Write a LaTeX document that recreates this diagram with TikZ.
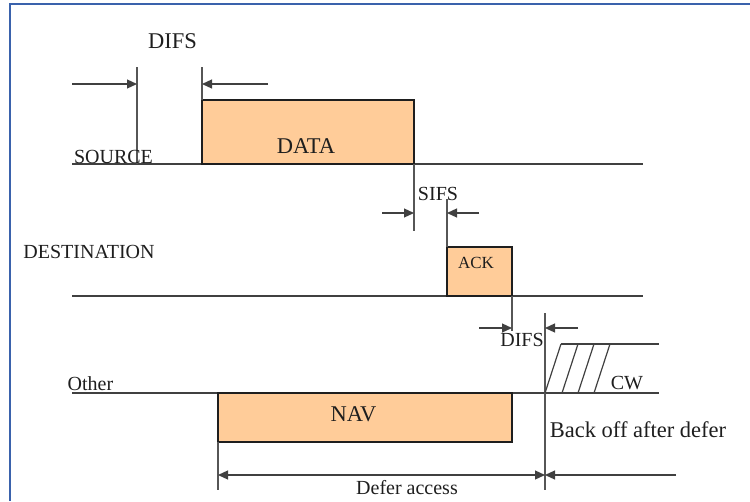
\documentclass[tikz,border=0pt]{standalone}
\usepackage{fontspec}
\setmainfont{Liberation Serif}
\usetikzlibrary{arrows.meta}
\definecolor{frameblue}{HTML}{3A62AC}
\definecolor{pktfill}{HTML}{FFCC99}
\definecolor{ink}{HTML}{1E1E1E}
\tikzset{
  >={Triangle[length=10pt,width=9pt]},
  every node/.style={text=ink,inner sep=0pt},
  frame/.style={draw=frameblue,line width=2.2pt},
  lane/.style={draw=ink!85,line width=1.2pt},
  tick/.style={draw=ink!75,line width=1.2pt},
  pkt/.style={draw=ink,line width=1.2pt,fill=pktfill},
  dim/.style={->,draw=ink!85,line width=1.2pt},
  bigtxt/.style={font=\fontsize{22.5}{25}\selectfont,anchor=base},
  midtxt/.style={font=\fontsize{20}{23}\selectfont,anchor=base},
  smalltxt/.style={font=\fontsize{17}{19}\selectfont,anchor=base},
}

\begin{document}
\begin{tikzpicture}[x=1pt,y=-1pt]
  \useasboundingbox (0,0) rectangle (750,501);
  % frame
  \draw[frame] (10,501) -- (10,4) -- (750,4);

  % time lines
  \draw[lane] (72,164) -- (643,164);
  \draw[lane] (72,296) -- (643,296);
  \draw[lane] (72,393) -- (659,393);

  % frames on the air
  \draw[pkt] (202,100) rectangle (414,164);
  \draw[pkt] (447,247) rectangle (512,296);
  \draw[pkt] (218,393) rectangle (512,442);

  % DIFS before DATA
  \draw[tick] (137,67) -- (137,164);
  \draw[tick] (202,67) -- (202,100);
  \draw[dim] (72,84) -- (137,84);
  \draw[dim] (268,84) -- (202,84);

  % SIFS
  \draw[tick] (414,164) -- (414,231);
  \draw[tick] (447,199) -- (447,247);
  \draw[dim] (382,213) -- (414,213);
  \draw[dim] (479,213) -- (447,213);

  % DIFS after ACK
  \draw[tick] (512,296) -- (512,331);
  \draw[tick] (545,313) -- (545,490);
  \draw[dim] (479,328) -- (512,328);
  \draw[dim] (578,328) -- (545,328);

  % contention window
  \draw[lane] (561,344) -- (659,344);
  \foreach \x in {545,562,578,594}
    \draw[lane] (\x,393) -- (\x+16,344);

  % defer access
  \draw[tick] (218,442) -- (218,490);
  \draw[dim,<->] (218,475) -- (545,475);
  \draw[dim] (676,475) -- (545,475);

  % labels
  \node[bigtxt] (difsa) at (172.5,48) {DIFS};
  \node[midtxt] (src) at (113.5,163) {SOURCE};
  \node[bigtxt] (data) at (306,153) {DATA};
  \node[midtxt] (sifs) at (438,200) {SIFS};
  \node[midtxt] (dst) at (89,258) {DESTINATION};
  \node[smalltxt] (ack) at (476,268) {ACK};
  \node[midtxt] (difsb) at (522,346) {DIFS};
  \node[midtxt] (cw) at (627,389) {CW};
  \node[midtxt] (oth) at (90.5,390) {Other};
  \node[bigtxt] (nav) at (353.5,421) {NAV};
  \node[bigtxt] (boff) at (638,437) {Back off after defer};
  \node[midtxt] (defer) at (407,494) {Defer access};
\end{tikzpicture}
\end{document}
